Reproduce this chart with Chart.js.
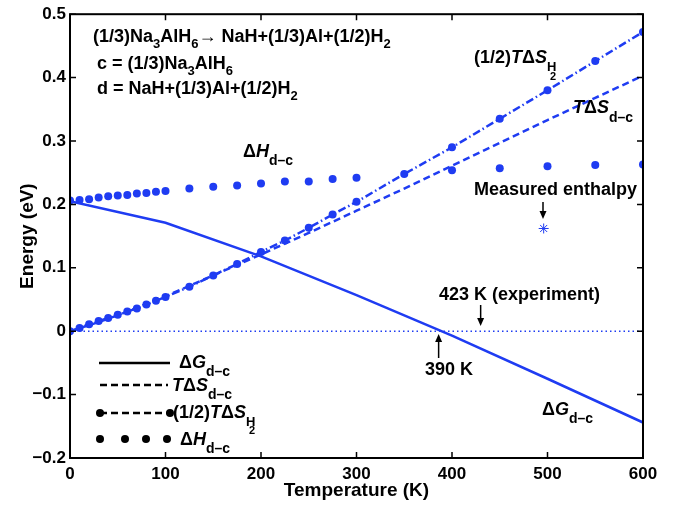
<!DOCTYPE html>
<html>
<head>
<meta charset="utf-8">
<script src="https://cdn.jsdelivr.net/npm/chart.js@4.4.0/dist/chart.umd.min.js"></script>
<style>
  html, body { margin: 0; padding: 0; background: #fff; }
  #wrap { width: 685px; height: 510px; }
</style>
</head>
<body>
<div id="wrap"><canvas id="chart" width="685" height="510"></canvas></div>
<script>
// temperatures (K) and energies (eV)
const tempG = [0, 100, 200, 300, 400, 500, 600];
const gibbs = [0.205, 0.171, 0.118, 0.057, -0.007, -0.075, -0.144];

const tempTS = [0, 25, 50, 75, 100, 150, 200, 250, 300, 350, 400, 450, 500, 550, 600];
const tdsDC = [0, 0.012, 0.025, 0.040, 0.055, 0.088, 0.121, 0.155, 0.190, 0.225, 0.261, 0.297, 0.333, 0.368, 0.403];

const tempH2 = [0, 10, 20, 30, 40, 50, 60, 70, 80, 90, 100, 125, 150, 175, 200, 225, 250, 275, 300, 350, 400, 450, 500, 550, 600];
const halfTdsH2 = [0, 0.005, 0.011, 0.016, 0.021, 0.026, 0.031, 0.036, 0.042, 0.048, 0.054, 0.070, 0.088, 0.106, 0.125, 0.143, 0.163, 0.184, 0.204, 0.248, 0.290, 0.335, 0.380, 0.426, 0.472];

const tempH = [0, 10, 20, 30, 40, 50, 60, 70, 80, 90, 100, 125, 150, 175, 200, 225, 250, 275, 300, 400, 450, 500, 550, 600];
const enthalpy = [0.206, 0.207, 0.208, 0.211, 0.213, 0.214, 0.215, 0.217, 0.218, 0.220, 0.221, 0.225, 0.228, 0.230, 0.233, 0.236, 0.236, 0.240, 0.242, 0.254, 0.257, 0.260, 0.262, 0.263];

const measuredT = [496];
const measuredH = [0.162];

const xTicks = [0, 100, 200, 300, 400, 500, 600];
const yTicks = [-0.2, -0.1, 0, 0.1, 0.2, 0.3, 0.4, 0.5];

const blue = '#1f3cf2';
const FONT = '"Liberation Sans", Arial, Helvetica, sans-serif';

function pts(xs, ys) {
    return xs.map((x, i) => ({ x: x, y: ys[i] }));
}

// draws a run of text pieces: [text, size, italic, dy]
function rich(ctx, x, y, parts) {
    ctx.textBaseline = 'alphabetic';
    ctx.textAlign = 'left';
    for (const p of parts) {
        ctx.font = (p[2] ? 'italic ' : '') + 'bold ' + p[1] + 'px ' + FONT;
        ctx.fillText(p[0], x, y + (p[3] || 0));
        x += ctx.measureText(p[0]).width;
    }
    return x;
}

function arrow(ctx, x, y1, y2) {
    const dir = y2 > y1 ? 1 : -1;
    ctx.beginPath();
    ctx.moveTo(x, y1);
    ctx.lineTo(x, y2 - dir * 6);
    ctx.lineWidth = 1.5;
    ctx.stroke();
    ctx.beginPath();
    ctx.moveTo(x - 3.5, y2 - dir * 8);
    ctx.lineTo(x + 3.5, y2 - dir * 8);
    ctx.lineTo(x, y2);
    ctx.closePath();
    ctx.fill();
}

const frame = {
    id: 'frame',
    afterDraw(chart) {
        const ctx = chart.ctx;
        const a = chart.chartArea;
        const xs = chart.scales.x, ys = chart.scales.y;
        ctx.save();
        ctx.strokeStyle = '#000';
        ctx.fillStyle = '#000';
        ctx.lineWidth = 2;
        ctx.strokeRect(a.left, a.top, a.right - a.left, a.bottom - a.top);
        ctx.lineWidth = 1.5;
        ctx.beginPath();
        for (const v of xTicks) {
            const px = xs.getPixelForValue(v);
            ctx.moveTo(px, a.bottom); ctx.lineTo(px, a.bottom - 6);
            ctx.moveTo(px, a.top); ctx.lineTo(px, a.top + 6);
        }
        for (const v of yTicks) {
            const py = ys.getPixelForValue(v);
            ctx.moveTo(a.left, py); ctx.lineTo(a.left + 6, py);
            ctx.moveTo(a.right, py); ctx.lineTo(a.right - 6, py);
        }
        ctx.stroke();

        // reaction text
        const big = 18, sm = 13;
        rich(ctx, 93, 42, [['(1/3)Na', big], ['3', sm, false, 6], ['AlH', big], ['6', sm, false, 6],
            ['\u2192 NaH+(1/3)Al+(1/2)H', big], ['2', sm, false, 6]]);
        rich(ctx, 97, 69, [['c = (1/3)Na', big], ['3', sm, false, 6], ['AlH', big], ['6', sm, false, 6]]);
        rich(ctx, 97, 94, [['d = NaH+(1/3)Al+(1/2)H', big], ['2', sm, false, 6]]);

        // curve labels
        let x = rich(ctx, 243, 157, [['\u0394', 18], ['H', 18, true]]);
        rich(ctx, x, 165, [['d\u2013c', 14]]);
        x = rich(ctx, 474, 63, [['(1/2)', 18], ['T', 18, true], ['\u0394', 18], ['S', 18, true]]);
        rich(ctx, x, 71, [['H', 13]]);
        rich(ctx, x + 3, 80, [['2', 11]]);
        x = rich(ctx, 573, 113, [['T', 18, true], ['\u0394', 18], ['S', 18, true]]);
        rich(ctx, x, 122, [['d\u2013c', 14]]);
        x = rich(ctx, 542, 415, [['\u0394', 18], ['G', 18, true]]);
        rich(ctx, x, 423, [['d\u2013c', 14]]);

        rich(ctx, 474, 195, [['Measured enthalpy', 18]]);
        arrow(ctx, 543, 202, 219);
        rich(ctx, 439, 300, [['423 K (experiment)', 18]]);
        arrow(ctx, xs.getPixelForValue(430), 305, 326);
        rich(ctx, 425, 375, [['390 K', 18]]);
        arrow(ctx, xs.getPixelForValue(386), 358, 334);

        // legend (black symbols)
        ctx.lineWidth = 2.5;
        ctx.beginPath();
        ctx.moveTo(99, 363); ctx.lineTo(170, 363);
        ctx.stroke();
        ctx.setLineDash([7, 4]);
        ctx.beginPath();
        ctx.moveTo(100, 385); ctx.lineTo(168, 385);
        ctx.moveTo(100, 413); ctx.lineTo(170, 413);
        ctx.stroke();
        ctx.setLineDash([]);
        for (const cx of [100, 170]) {
            ctx.beginPath(); ctx.arc(cx, 413, 4, 0, Math.PI * 2); ctx.fill();
        }
        for (const cx of [100, 125, 146, 167]) {
            ctx.beginPath(); ctx.arc(cx, 439, 4, 0, Math.PI * 2); ctx.fill();
        }
        x = rich(ctx, 179, 368, [['\u0394', 18], ['G', 18, true]]);
        rich(ctx, x, 376, [['d\u2013c', 14]]);
        x = rich(ctx, 172, 391, [['T', 18, true], ['\u0394', 18], ['S', 18, true]]);
        rich(ctx, x, 399, [['d\u2013c', 14]]);
        x = rich(ctx, 173, 418, [['(1/2)', 18], ['T', 18, true], ['\u0394', 18], ['S', 18, true]]);
        rich(ctx, x, 426, [['H', 13]]);
        rich(ctx, x + 3, 434, [['2', 11]]);
        x = rich(ctx, 180, 445, [['\u0394', 18], ['H', 18, true]]);
        rich(ctx, x, 453, [['d\u2013c', 14]]);
        ctx.restore();
    }
};

window.addEventListener('load', function () {
    const ctx = document.getElementById('chart');
    new Chart(ctx, {
        type: 'scatter',
        data: {
            datasets: [
                {
                    label: 'zero',
                    data: pts([0, 600], [0, 0]),
                    showLine: true,
                    borderColor: blue,
                    borderWidth: 1.5,
                    borderDash: [1.5, 3],
                    pointRadius: 0
                },
                {
                    label: 'dG',
                    data: pts(tempG, gibbs),
                    showLine: true,
                    borderColor: blue,
                    borderWidth: 2.5,
                    pointRadius: 0
                },
                {
                    label: 'TdS',
                    data: pts(tempTS, tdsDC),
                    showLine: true,
                    borderColor: blue,
                    borderWidth: 2.5,
                    borderDash: [7, 4],
                    pointRadius: 0
                },
                {
                    label: 'halfTdSH2',
                    data: pts(tempH2, halfTdsH2),
                    showLine: true,
                    borderColor: blue,
                    backgroundColor: blue,
                    borderWidth: 2.5,
                    borderDash: [8, 3, 1.5, 3],
                    pointRadius: 4,
                    pointBorderWidth: 0
                },
                {
                    label: 'dH',
                    data: pts(tempH, enthalpy),
                    showLine: false,
                    backgroundColor: blue,
                    borderColor: blue,
                    pointRadius: 4,
                    pointBorderWidth: 0
                },
                {
                    label: 'measured',
                    data: pts(measuredT, measuredH),
                    showLine: false,
                    pointStyle: 'star',
                    pointRadius: 5,
                    borderColor: blue,
                    borderWidth: 1
                }
            ]
        },
        options: {
            responsive: false,
            animation: false,
            layout: { padding: { left: 0, right: 42, top: 9, bottom: 0 } },
            plugins: { legend: { display: false }, tooltip: { enabled: false } },
            scales: {
                x: {
                    type: 'linear',
                    min: 0,
                    max: 600,
                    afterFit: function (s) { s.height = 52; },
                    afterBuildTicks: function (s) { s.ticks = xTicks.map(v => ({ value: v })); },
                    grid: { display: false, drawTicks: false },
                    border: { display: false },
                    ticks: {
                        padding: 6,
                        color: '#000',
                        font: { family: FONT, size: 17, weight: 'bold' }
                    },
                    title: {
                        display: true,
                        text: 'Temperature (K)',
                        color: '#000',
                        font: { family: FONT, size: 19, weight: 'bold' },
                        padding: { top: 0, bottom: 8 }
                    }
                },
                y: {
                    min: -0.2,
                    max: 0.5,
                    afterFit: function (s) { s.width = 70; },
                    afterBuildTicks: function (s) { s.ticks = yTicks.map(v => ({ value: v })); },
                    grid: { display: false, drawTicks: false },
                    border: { display: false },
                    ticks: {
                        padding: 4,
                        color: '#000',
                        font: { family: FONT, size: 17, weight: 'bold' },
                        callback: v => String(Math.round(v * 10) / 10).replace('-', '\u2212')
                    },
                    title: {
                        display: true,
                        text: 'Energy (eV)',
                        color: '#000',
                        font: { family: FONT, size: 19, weight: 'bold' },
                        padding: { top: 16, bottom: 0 }
                    }
                }
            }
        },
        plugins: [frame]
    });
});
</script>
</body>
</html>
